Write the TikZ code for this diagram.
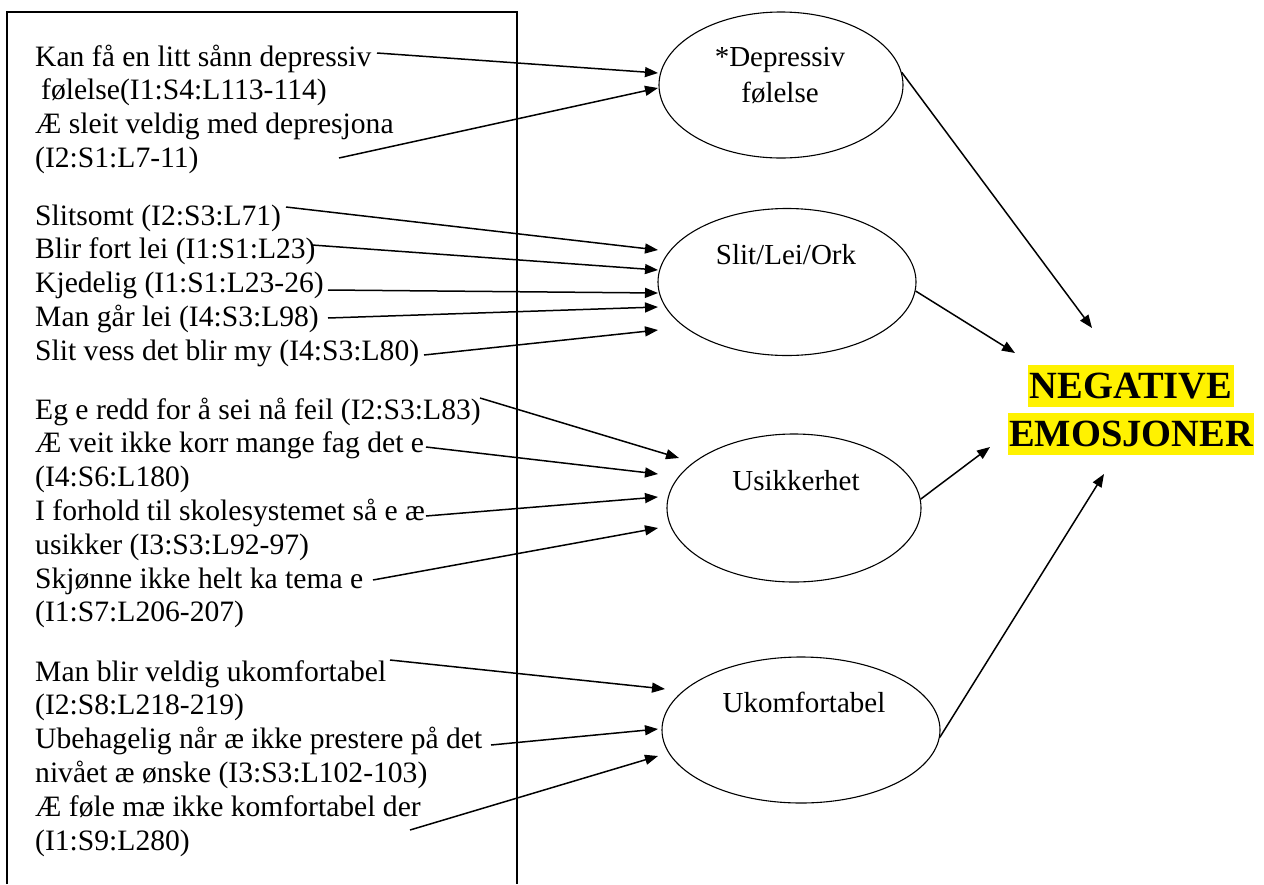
\documentclass[tikz,border=0pt]{standalone}
\usepackage{fontspec}
\setmainfont{Liberation Serif}
\usetikzlibrary{shapes.geometric,arrows.meta}
\begin{document}
\begin{tikzpicture}[x=1pt,y=-1pt,
  txt/.style={anchor=base west, inner sep=0pt, font=\fontsize{29.6}{33.8}\selectfont},
  oval/.style={draw, ellipse, inner sep=0pt, line width=1.1pt},
  olabel/.style={anchor=base, inner sep=0pt, font=\fontsize{29}{35}\selectfont},
  hilite/.style={anchor=base, fill=yellow, inner xsep=1.5pt, inner ysep=0pt, text height=33pt, text depth=9pt, font=\fontsize{38.5}{44}\selectfont\bfseries},
  arr/.style={line width=1.5pt, -{Triangle[length=13pt,width=10pt]}},
]
\useasboundingbox (0,0) rectangle (1264,884);
\draw[line width=1.3pt] (7,884) -- (7,12) -- (517,12) -- (517,884);

% group 1
\node[txt] (l11) at (35,66) {Kan få en litt sånn depressiv};
\node[txt] (l12) at (41,99.8) {følelse(I1:S4:L113-114)};
\node[txt] (l13) at (35,133.6) {Æ sleit veldig med depresjona};
\node[txt] (l14) at (35,167.4) {(I2:S1:L7-11)};
% group 2
\node[txt] (l21) at (35,225) {Slitsomt (I2:S3:L71)};
\node[txt] (l22) at (35,258.8) {Blir fort lei (I1:S1:L23)};
\node[txt] (l23) at (35,292.6) {Kjedelig (I1:S1:L23-26)};
\node[txt] (l24) at (35,326.4) {Man går lei (I4:S3:L98)};
\node[txt] (l25) at (35,360.2) {Slit vess det blir my (I4:S3:L80)};
% group 3
\node[txt] (l31) at (35,419) {Eg e redd for å sei nå feil (I2:S3:L83)};
\node[txt] (l32) at (35,452.8) {Æ veit ikke korr mange fag det e};
\node[txt] (l33) at (35,486.6) {(I4:S6:L180)};
\node[txt] (l34) at (35,520.4) {I forhold til skolesystemet så e æ};
\node[txt] (l35) at (35,554.2) {usikker (I3:S3:L92-97)};
\node[txt] (l36) at (35,588) {Skjønne ikke helt ka tema e};
\node[txt] (l37) at (35,621.8) {(I1:S7:L206-207)};
% group 4
\node[txt] (l41) at (35,681) {Man blir veldig ukomfortabel};
\node[txt] (l42) at (35,714.8) {(I2:S8:L218-219)};
\node[txt] (l43) at (35,748.6) {Ubehagelig når æ ikke prestere på det};
\node[txt] (l44) at (35,782.4) {nivået æ ønske (I3:S3:L102-103)};
\node[txt] (l45) at (35,816.2) {Æ føle mæ ikke komfortabel der};
\node[txt] (l46) at (35,850) {(I1:S9:L280)};

% ellipses
\node[oval, minimum width=244pt, minimum height=146pt] (e1) at (781,85) {};
\node[oval, minimum width=258pt, minimum height=147pt] (e2) at (787,282) {};
\node[oval, minimum width=254pt, minimum height=148pt] (e3) at (794,508) {};
\node[oval, minimum width=278pt, minimum height=146pt] (e4) at (801,730) {};
\node[olabel] (t1a) at (780,66) {*Depressiv};
\node[olabel] (t1b) at (780,102) {følelse};
\node[olabel] (t2) at (786,264) {Slit/Lei/Ork};
\node[olabel] (t3) at (796,490) {Usikkerhet};
\node[olabel] (t4) at (804,712) {Ukomfortabel};

% result
\node[hilite] (neg) at (1131,398) {NEGATIVE};
\node[hilite] (emo) at (1131,446) {EMOSJONER};

% free ends
\coordinate (a1s) at (377,53);  \coordinate (a1t) at (658,73);
\coordinate (a2s) at (339,158); \coordinate (a2t) at (658,88);
\coordinate (b1s) at (286,207); \coordinate (b1t) at (658,250);
\coordinate (b2s) at (312,245); \coordinate (b2t) at (658,270);
\coordinate (b3s) at (328,290); \coordinate (b3t) at (658,293);
\coordinate (b4s) at (328,318); \coordinate (b4t) at (658,307);
\coordinate (b5s) at (424,355); \coordinate (b5t) at (658,330);
\coordinate (c1s) at (480,398); \coordinate (c1t) at (679,458);
\coordinate (c2s) at (426,447); \coordinate (c2t) at (658,474);
\coordinate (c3s) at (426,516); \coordinate (c3t) at (658,497);
\coordinate (c4s) at (373,580); \coordinate (c4t) at (658,528);
\coordinate (d1s) at (390,660); \coordinate (d1t) at (665,689);
\coordinate (d2s) at (491,745); \coordinate (d2t) at (658,729);
\coordinate (d3s) at (410,830); \coordinate (d3t) at (658,756);
\coordinate (n1) at (1092,328);
\coordinate (n2) at (1015,353);
\coordinate (n3) at (990,447);
\coordinate (n4) at (1104,474);

\draw[arr] (a1s) -- (a1t);
\draw[arr] (a2s) -- (a2t);
\draw[arr] (b1s) -- (b1t);
\draw[arr] (b2s) -- (b2t);
\draw[arr] (b3s) -- (b3t);
\draw[arr] (b4s) -- (b4t);
\draw[arr] (b5s) -- (b5t);
\draw[arr] (c1s) -- (c1t);
\draw[arr] (c2s) -- (c2t);
\draw[arr] (c3s) -- (c3t);
\draw[arr] (c4s) -- (c4t);
\draw[arr] (d1s) -- (d1t);
\draw[arr] (d2s) -- (d2t);
\draw[arr] (d3s) -- (d3t);
\draw[arr] (e1.6) -- (n1);
\draw[arr] (e2.-4) -- (n2);
\draw[arr] (e3.4) -- (n3);
\draw[arr] (e4.-3) -- (n4);
\end{tikzpicture}
\end{document}
